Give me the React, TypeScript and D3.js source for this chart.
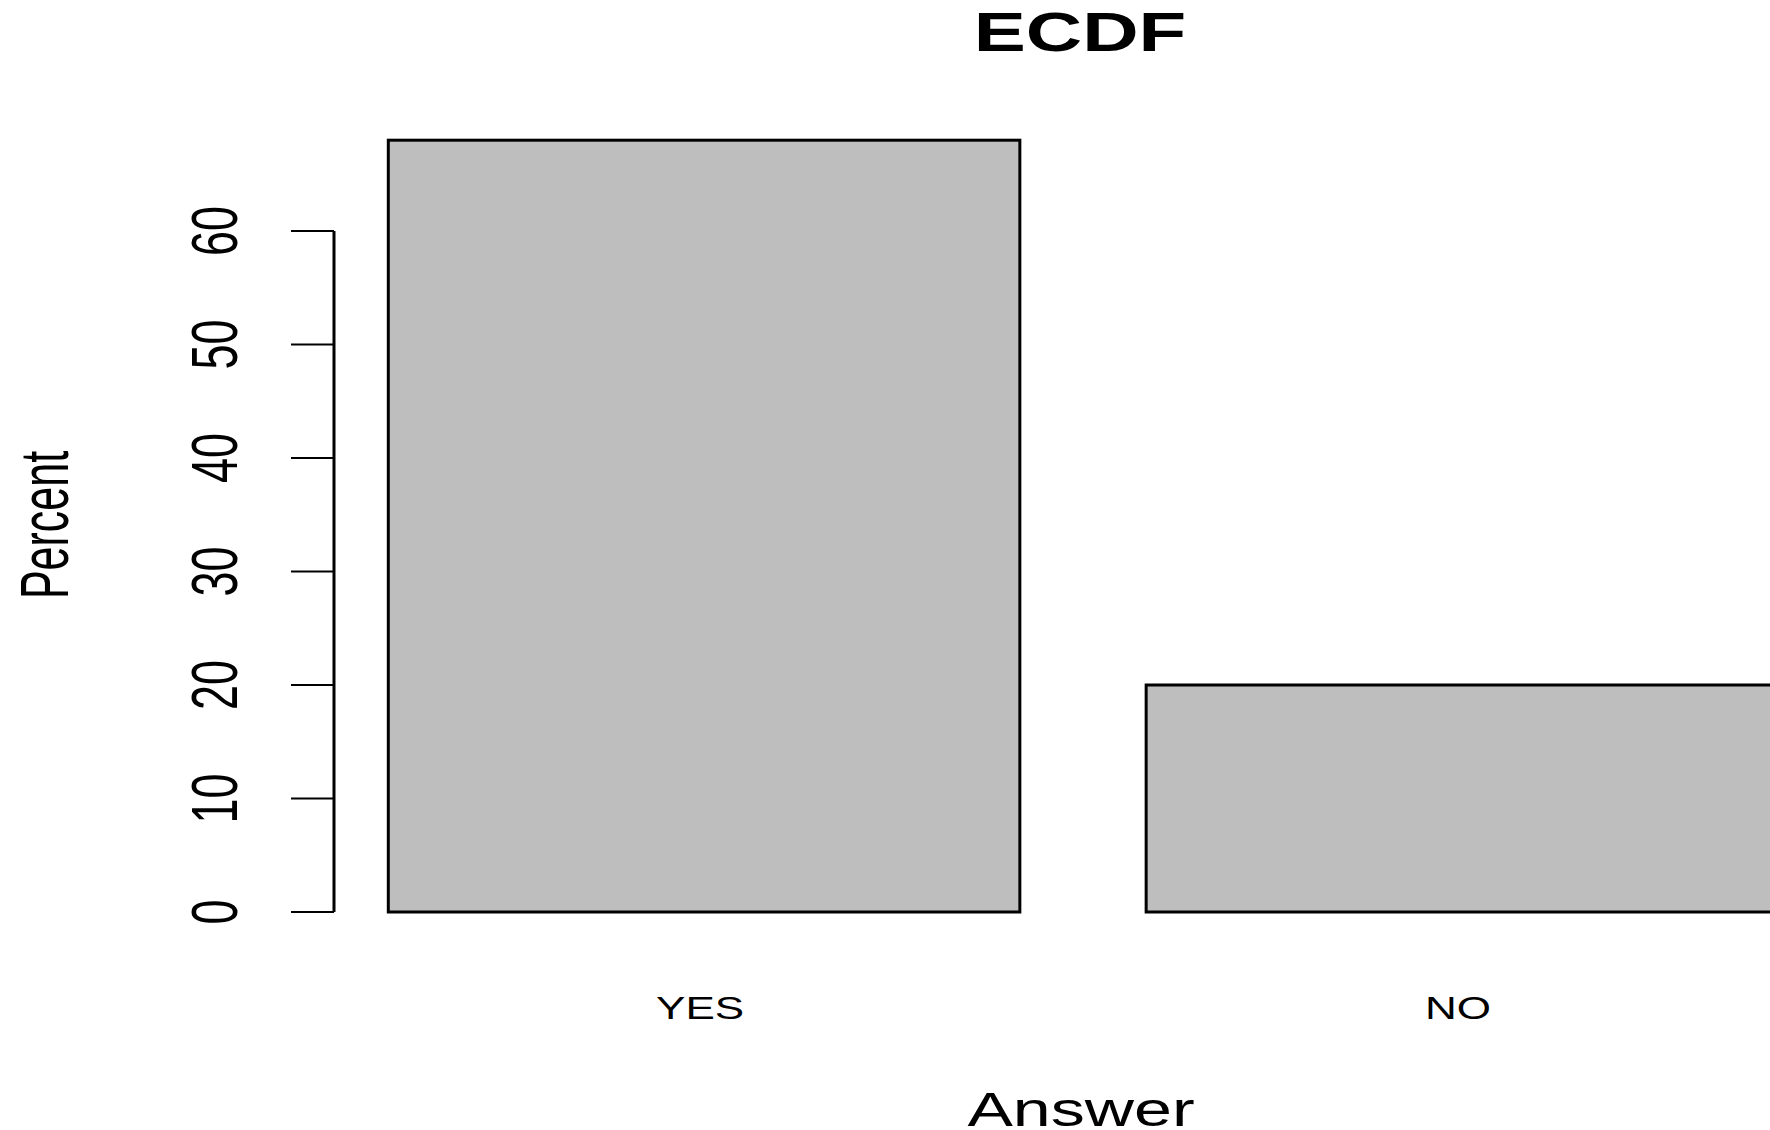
import * as d3 from 'd3';

const categories = ['YES', 'NO'];
const percents = [68, 20];
const yTicks = [0, 10, 20, 30, 40, 50, 60];

const W = 1770;
const H = 1130;
const font = '"Liberation Sans", Arial, sans-serif';
// the reference is stretched horizontally
const SX = 1.42;

export default function App() {
  const y = d3.scaleLinear().domain([0, 60]).range([912, 231]);
  const x = d3
    .scaleBand<string>()
    .domain(categories)
    .range([262, 1904])
    .paddingInner(1 / 6)
    .paddingOuter(1 / 6);

  return (
    <svg
      width={W}
      height={H}
      style={{ position: 'absolute', left: 0, top: 0, background: 'white' }}
    >
      <rect width={W} height={H} fill="white" />

      {/* bars */}
      {categories.map((c, i) => (
        <rect
          key={c}
          x={x(c)}
          y={y(percents[i])}
          width={x.bandwidth()}
          height={y(0) - y(percents[i])}
          fill="#bebebe"
          stroke="black"
          strokeWidth={3}
        />
      ))}

      {/* y axis */}
      <line x1={334} x2={334} y1={y(0)} y2={y(60)} stroke="black" strokeWidth={3} />
      {yTicks.map((t) => (
        <g key={t}>
          <line x1={291} x2={334} y1={y(t)} y2={y(t)} stroke="black" strokeWidth={2} />
          <text
            transform={`translate(237,${y(t)}) scale(${SX},1) rotate(-90)`}
            textAnchor="middle"
            fontFamily={font}
            fontSize={45}
          >
            {t}
          </text>
        </g>
      ))}

      {/* category labels */}
      {categories.map((c) => (
        <text
          key={c}
          transform={`translate(${x(c)! + x.bandwidth() / 2 - 4},1019) scale(${SX},1)`}
          textAnchor="middle"
          fontFamily={font}
          fontSize={31}
        >
          {c}
        </text>
      ))}

      {/* title */}
      <text
        transform={`translate(1080,51) scale(${SX},1)`}
        textAnchor="middle"
        fontFamily={font}
        fontSize={55}
        fontWeight="bold"
      >
        ECDF
      </text>

      {/* axis labels */}
      <text
        transform={`translate(1081,1126) scale(${SX},1)`}
        textAnchor="middle"
        fontFamily={font}
        fontSize={48}
      >
        Answer
      </text>
      <text
        transform={`translate(68,525) scale(1.6,1) rotate(-90)`}
        textAnchor="middle"
        fontFamily={font}
        fontSize={43}
      >
        Percent
      </text>
    </svg>
  );
}
